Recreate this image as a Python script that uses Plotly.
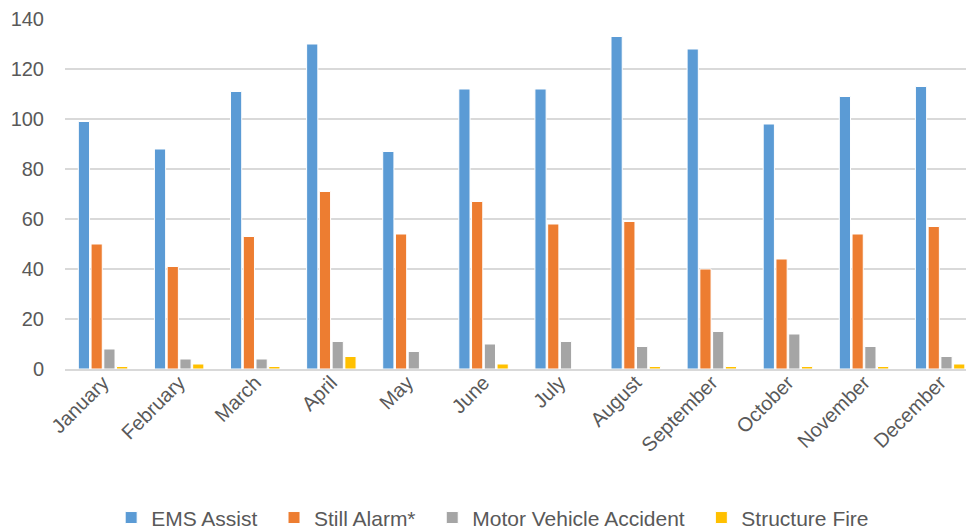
import plotly.graph_objects as go

months = ["January", "February", "March", "April", "May", "June", "July",
          "August", "September", "October", "November", "December"]
ems_assist = [99, 88, 111, 130, 87, 112, 112, 133, 128, 98, 109, 113]
still_alarm = [50, 41, 53, 71, 54, 67, 58, 59, 40, 44, 54, 57]
motor_vehicle = [8, 4, 4, 11, 7, 10, 11, 9, 15, 14, 9, 5]
structure_fire = [1, 2, 1, 5, 0, 2, 0, 1, 1, 1, 1, 2]
series_names = ["EMS Assist", "Still Alarm*", "Motor Vehicle Accident", "Structure Fire"]
series_colors = ["#5b9bd5", "#ed7d31", "#a5a5a5", "#ffc000"]
series_values = [ems_assist, still_alarm, motor_vehicle, structure_fire]

FONT = "Liberation Sans, sans-serif"
PAD = "\u00a0\u00a0"

fig = go.Figure()
for i, (name, vals, col) in enumerate(zip(series_names, series_values, series_colors)):
    fig.add_trace(go.Bar(
        x=list(range(len(months))), y=vals,
        name=name + (PAD if i < len(series_names) - 1 else ""),
        marker=dict(color=col, line=dict(color="white", width=1)),
    ))

fig.update_layout(
    width=966, height=529,
    margin=dict(l=65, r=0, t=19, b=160, autoexpand=False),
    paper_bgcolor="white", plot_bgcolor="white",
    barmode="group", bargap=0.33, bargroupgap=0.12,
    font=dict(family=FONT, size=18, color="#595959"),
    showlegend=True,
    legend=dict(orientation="h", x=0.51, xanchor="center", xref="container",
                y=0.021, yanchor="middle", yref="container",
                font=dict(size=21, color="#595959"), itemwidth=30,
                traceorder="normal"),
    xaxis=dict(
        tickmode="array", tickvals=list(range(len(months))), ticktext=months,
        tickangle=-45, range=[-0.5, 11.34], showgrid=False, zeroline=False,
        showline=True, linecolor="#d9d9d9", linewidth=2, automargin=False,
        tickfont=dict(size=20, color="#595959"), ticks="", ticklabelstandoff=-8,
    ),
    yaxis=dict(
        range=[0, 140], dtick=20, showgrid=True, gridcolor="#d9d9d9", gridwidth=2,
        zeroline=False, showline=False, ticks="", automargin=False,
        tickfont=dict(size=20, color="#595959"), ticklabelstandoff=20,
    ),
)

fig.write_html("out.html")
